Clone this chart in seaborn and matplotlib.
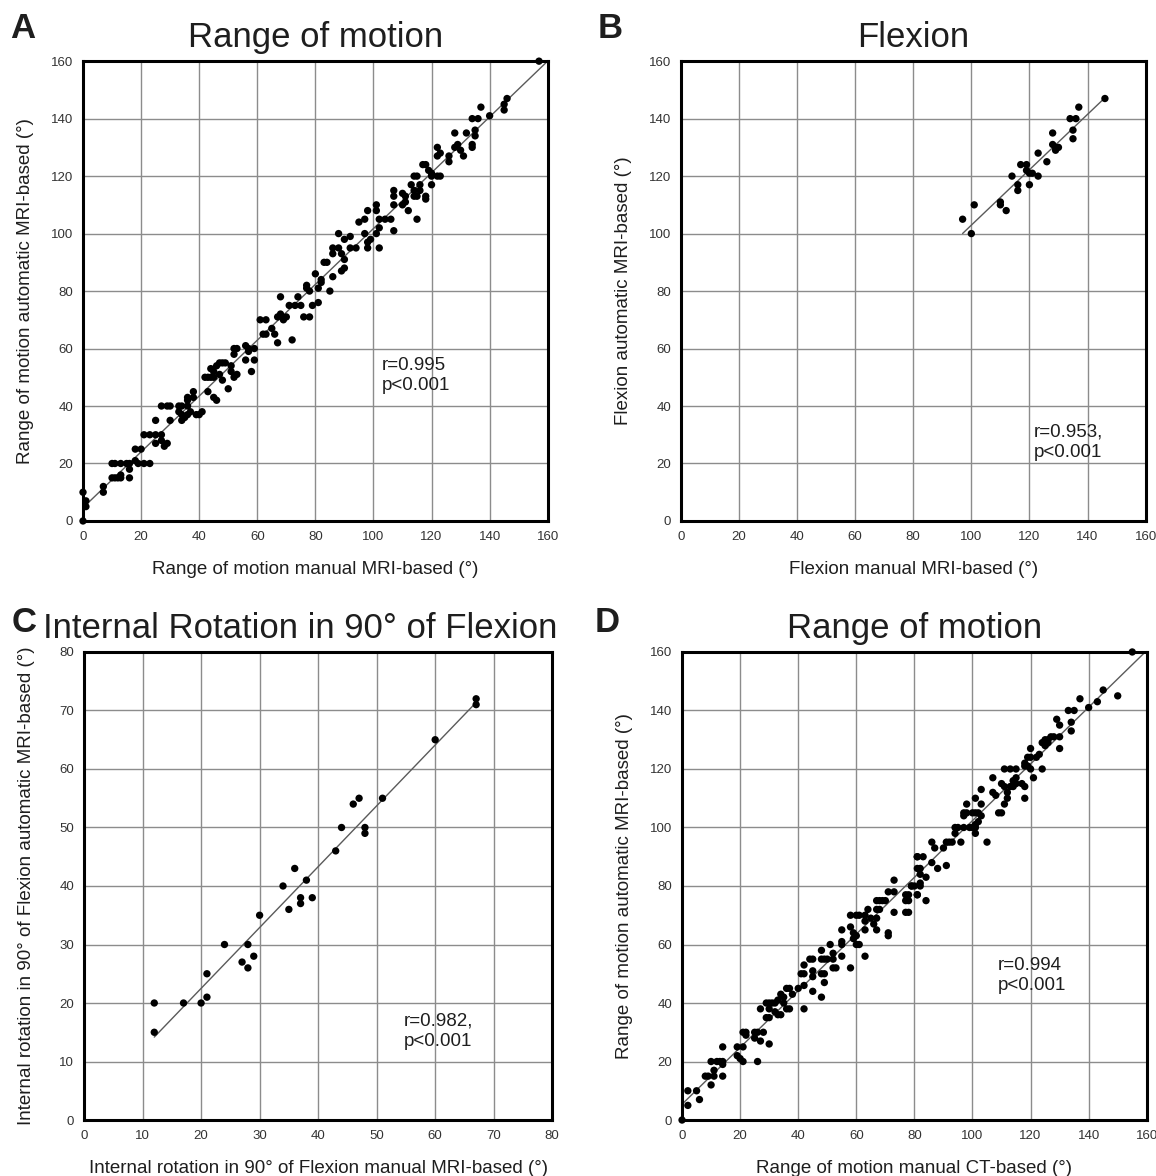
import numpy as np
import matplotlib
matplotlib.use("Agg")
import matplotlib.pyplot as plt
import seaborn as sns

# Panel A: range of motion, manual vs automatic MRI-based (deg)
rom_mri_manual = [0, 0, 1, 1, 7, 7,
                  10, 11, 12, 13, 13,
                  10, 11, 13, 15, 16, 16, 16,
                  18, 19, 21, 23,
                  18, 20,
                  21, 23, 25, 27,
                  25, 27, 28, 29,
                  25,
                  27, 29, 30, 33, 34,
                  30,
                  33, 34, 35, 34, 36, 37, 36,
                  36, 36, 38, 38,
                  39, 40, 41,
                  43,
                  42, 43, 44,
                  44, 45, 45,
                  45, 46,
                  46, 47, 48, 49, 51,
                  47, 48,
                  50,
                  51, 52, 53,
                  52, 53, 52,
                  56, 57, 57, 59,
                  56, 58, 59,
                  61, 63,
                  62, 63,
                  65, 66, 67,
                  67, 68, 69,
                  68,
                  70,
                  71, 73, 75,
                  74,
                  72,
                  76, 78,
                  77, 78,
                  79,
                  81,
                  80, 82, 82, 81, 77, 85,
                  83, 84,
                  90, 89, 86,
                  86, 88, 86,
                  88, 90, 92,
                  89, 90,
                  92, 94,
                  98, 102,
                  97, 98,
                  102, 101, 99,
                  107,
                  95, 97,
                  102, 104, 106,
                  98, 101, 101,
                  107, 107, 107,
                  110, 111, 111, 110,
                  112, 115,
                  114, 115,
                  113, 114, 115, 114,
                  116, 116, 118, 118,
                  117, 118, 119, 120,
                  120, 122, 123, 120,
                  122, 123, 122,
                  126, 126,
                  128, 129, 130, 131,
                  128, 132,
                  135, 135, 134, 134,
                  134, 136,
                  137, 140,
                  146, 145, 145,
                  157]
rom_mri_auto = [0, 10, 7, 5, 12, 10,
                15, 15, 15, 15, 16,
                20, 20, 20, 20, 20, 18, 15,
                21, 20, 20, 20,
                25, 25,
                30, 30, 30, 30,
                27, 28, 26, 27,
                35,
                40, 40, 40, 40, 40,
                35,
                38, 37, 36, 35, 37, 38, 40,
                42, 43, 45, 43,
                37, 37, 38,
                45,
                50, 50, 50,
                53, 52, 50,
                43, 42,
                54, 55, 55, 55, 54,
                51, 49,
                46,
                52, 50, 51,
                60, 60, 58,
                61, 60, 59, 60,
                56, 52, 56,
                70, 70,
                65, 65,
                67, 65, 62,
                71, 72, 70,
                78,
                71,
                75, 75, 75,
                78,
                63,
                71, 71,
                81, 80,
                75,
                76,
                86, 84, 83, 81, 82, 80,
                90, 90,
                88, 87, 85,
                95, 95, 93,
                100, 98, 99,
                93, 91,
                95, 95,
                95, 95,
                100, 97,
                102, 100, 98,
                101,
                104, 105,
                105, 105, 105,
                108, 110, 108,
                115, 113, 110,
                114, 113, 111, 110,
                108, 105,
                120, 120,
                117, 115, 113, 113,
                117, 115, 113, 112,
                124, 124, 122, 121,
                120, 120, 120, 117,
                127, 128, 130,
                127, 125,
                130, 131, 129, 127,
                135, 135,
                136, 134, 131, 130,
                140, 140,
                144, 141,
                147, 145, 143,
                160]

# Panel B: flexion
flex_manual = [146, 137, 134, 136, 135, 135, 128, 128, 129, 130, 129, 123, 126,
               117, 119, 119, 120, 121, 114, 123, 116, 116, 120, 110, 110, 112,
               101, 97, 100]
flex_auto = [147, 144, 140, 140, 136, 133, 135, 131, 130, 130, 129, 128, 125,
             124, 124, 122, 121, 121, 120, 120, 117, 115, 117, 111, 110, 108,
             110, 105, 100]

# Panel C: internal rotation in 90 deg of flexion
ir_manual = [67, 67, 60, 51, 46, 47, 48, 48, 44, 43, 36, 38, 34, 37, 37, 39, 35,
             30, 24, 28, 29, 27, 28, 21, 21, 20, 17, 12, 12]
ir_auto = [72, 71, 65, 55, 54, 55, 50, 49, 50, 46, 43, 41, 40, 38, 37, 38, 36,
           35, 30, 30, 28, 27, 26, 25, 21, 20, 20, 20, 15]

# Panel D: range of motion, manual CT-based vs automatic MRI-based
rom_ct_manual = [0, 2, 2, 5, 6,
                 8, 9, 10, 11, 11,
                 10, 12, 13, 14, 14, 14,
                 14, 19, 21, 19, 20, 21,
                 22, 22, 21, 25, 26, 28, 25, 27, 26, 30,
                 27, 29, 30, 31, 32, 33,
                 29, 30,
                 30, 32, 33, 34,
                 34, 35, 35, 36, 37,
                 36, 37, 38, 42, 40,
                 41, 42, 42,
                 42, 44, 45,
                 45, 45, 45,
                 48, 48, 49, 50,
                 48, 49, 48, 49,
                 51, 52, 52, 52, 53,
                 55, 55, 55, 55, 58,
                 58, 60, 61, 63,
                 58, 59, 59, 60, 61, 60,
                 63, 63, 63,
                 64, 65, 67, 66,
                 67, 68, 69, 70,
                 67, 68, 67,
                 71, 71, 71,
                 73, 73, 73,
                 77, 77, 77, 79,
                 81, 81, 80, 81,
                 155, 145, 150, 143, 140, 137,
                 133, 135, 129, 130, 134, 134,
                 125, 126, 127, 128, 130,
                 124, 125, 126, 130,
                 120, 123, 122, 120, 119, 118, 118, 119, 120,
                 124, 121,
                 111, 113, 115,
                 107, 115, 114, 115, 117, 118,
                 110, 111, 113, 114,
                 118, 107, 108, 112, 112, 111,
                 103, 101, 103, 98,
                 109, 110,
                 97, 98, 100, 101, 102, 103, 97,
                 94, 95, 97, 99, 100, 101, 102, 101,
                 101, 105, 94,
                 91, 92, 93, 96,
                 86, 87, 90,
                 81, 83, 86,
                 82, 82, 82, 82, 84, 88, 91,
                 79, 78, 78, 78, 81, 84]
rom_ct_auto = [0, 5, 10, 10, 7,
               15, 15, 12, 17, 15,
               20, 20, 20, 20, 19, 15,
               25, 25, 25, 22, 21, 20,
               30, 29, 30, 30, 30, 30, 28, 27, 20, 26,
               38, 40, 40, 40, 40, 41,
               35, 35,
               38, 37, 36, 36,
               43, 42, 40, 38, 38,
               45, 45, 43, 38, 45,
               50, 50, 46,
               53, 55, 55,
               49, 51, 44,
               58, 55, 55, 55,
               50, 50, 42, 47,
               60, 57, 55, 52, 52,
               65, 60, 56, 61, 52,
               70, 70, 70, 70,
               66, 64, 62, 60, 60, 63,
               56, 65, 68,
               72, 69, 69, 67,
               75, 75, 75, 75,
               72, 72, 65,
               78, 64, 63,
               82, 78, 71,
               77, 75, 71, 80,
               90, 86, 80, 77,
               160, 147, 145, 143, 141, 144,
               140, 140, 137, 135, 136, 133,
               130, 130, 131, 131, 131,
               129, 128, 129, 127,
               127, 125, 124, 124, 124, 122, 121, 121, 120,
               120, 117,
               120, 120, 120,
               117, 117, 116, 115, 115, 114,
               115, 114, 114, 114,
               110, 112, 111, 112, 110, 108,
               113, 110, 108, 108,
               105, 105,
               105, 105, 105, 105, 105, 104, 104,
               100, 100, 100, 100, 100, 101, 102, 100,
               98, 95, 98,
               95, 95, 95, 95,
               95, 93, 93,
               90, 90, 88,
               86, 84, 81, 80, 83, 86, 87,
               80, 77, 75, 71, 77, 75]

sns.set_style("white")
plt.rcParams["font.family"] = ["Liberation Sans", "DejaVu Sans"]
plt.rcParams["text.color"] = "#1e1e1e"
plt.rcParams["axes.labelcolor"] = "#1e1e1e"
plt.rcParams["xtick.color"] = "#333333"
plt.rcParams["ytick.color"] = "#333333"

fig = plt.figure(figsize=(11.56, 11.76), dpi=100)

panels = [
    # letter, title, x, y, rect, lim, step, xlabel, ylabel, stats, stats pos, full line, title x, letter pos
    ("A", "Range of motion", rom_mri_manual, rom_mri_auto,
     [0.0718, 0.557, 0.402, 0.391], 160, 20,
     "Range of motion manual MRI-based (°)",
     "Range of motion automatic MRI-based (°)",
     "r=0.995\np<0.001", (103, 57), True, 0.273, (0.009, 0.976)),
    ("B", "Flexion", flex_manual, flex_auto,
     [0.589, 0.557, 0.402, 0.391], 160, 20,
     "Flexion manual MRI-based (°)",
     "Flexion automatic MRI-based (°)",
     "r=0.953,\np<0.001", (121.5, 34), False, 0.790, (0.517, 0.976)),
    ("C", "Internal Rotation in 90° of Flexion", ir_manual, ir_auto,
     [0.0727, 0.0476, 0.405, 0.398], 80, 10,
     "Internal rotation in 90° of Flexion manual MRI-based (°)",
     "Internal rotation in 90° of Flexion automatic MRI-based (°)",
     "r=0.982,\np<0.001", (54.7, 18.3), False, 0.260, (0.010, 0.471)),
    ("D", "Range of motion", rom_ct_manual, rom_ct_auto,
     [0.590, 0.0476, 0.402, 0.398], 160, 20,
     "Range of motion manual CT-based (°)",
     "Range of motion automatic MRI-based (°)",
     "r=0.994\np<0.001", (108.7, 55.7), True, 0.791, (0.514, 0.471)),
]

for (letter, title, xs, ys, rect, lim, step, xlab, ylab, stats, spos,
     full_line, title_x, lpos) in panels:
    ax = fig.add_axes(rect)
    ax.set_xlim(0, lim)
    ax.set_ylim(0, lim)
    ticks = np.arange(0, lim + 1, step)
    ax.set_xticks(ticks)
    ax.set_yticks(ticks)
    ax.grid(True, color="#8c8c8c", linewidth=1.0)
    ax.set_axisbelow(True)

    sns.regplot(x=xs, y=ys, ax=ax, scatter=False, ci=None,
                truncate=not full_line,
                line_kws={"color": "#5a5a5a", "linewidth": 1.0})
    ax.set_xlim(0, lim)
    ax.set_ylim(0, lim)
    sns.scatterplot(x=xs, y=ys, ax=ax, color="black", s=28,
                    edgecolor="none", zorder=3, clip_on=False)

    for sp in ax.spines.values():
        sp.set_visible(True)
        sp.set_color("black")
        sp.set_linewidth(2.2)
    ax.tick_params(axis="both", direction="out", length=4, width=1,
                   labelsize=9.5, pad=3)

    ax.set_xlabel(xlab, fontsize=13.5)
    ax.set_ylabel(ylab, fontsize=13.5)
    ax.xaxis.set_label_coords(0.5, -0.086)
    ax.yaxis.set_label_coords(-0.105, 0.5)

    ax.text(spos[0], spos[1], stats, fontsize=13.5, va="top", ha="left",
            linespacing=1.25)

    fig.text(title_x, rect[1] + rect[3] + 0.020, title, fontsize=25,
             ha="center", va="center")
    fig.text(lpos[0], lpos[1], letter, fontsize=25, fontweight="bold",
             ha="left", va="center")

fig.savefig("out.png", dpi=100, facecolor="white")
